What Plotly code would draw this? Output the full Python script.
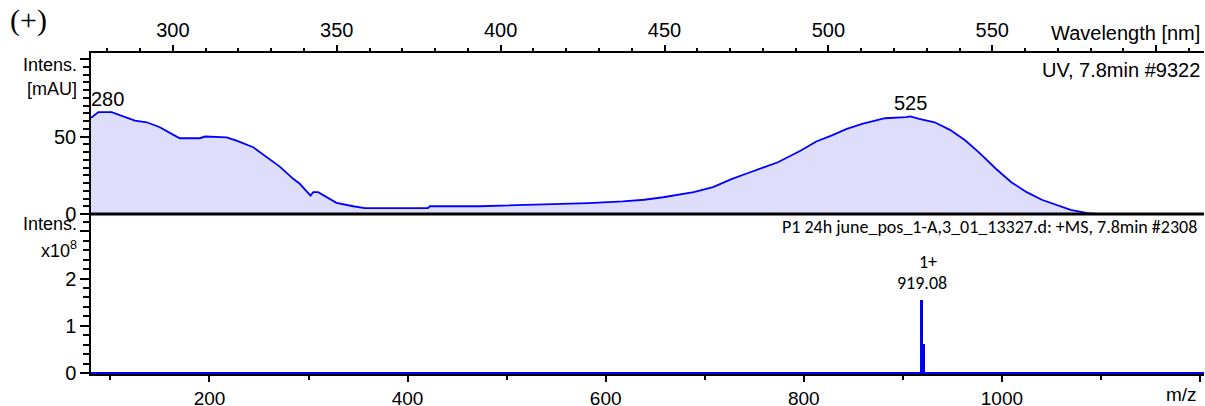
import plotly.graph_objects as go

# ---------------- data ----------------
# UV spectrum (wavelength in nm, absorbance in mAU)
uv_wavelength = [275.0, 277.2, 281.3, 284.8, 288.4, 292.0, 296.0, 299.6, 302.1, 308.2,
                 309.8, 316.4, 319.4, 324.5, 328.6, 332.6, 336.7, 338.7, 342.0, 342.8,
                 344.3, 347.4, 349.9, 355.0, 358.5, 377.8, 378.4, 393.6, 411.7, 426.8,
                 437.3, 443.8, 449.6, 454.3, 458.9, 464.8, 470.6, 475.3, 479.9, 484.6,
                 491.6, 496.3, 500.9, 505.6, 510.3, 514.9, 517.3, 523.7, 525.0, 527.7,
                 532.4, 537.1, 541.8, 546.4, 551.1, 555.8, 560.5, 565.1, 569.8, 573.9,
                 579.0, 582.0, 614.6]
uv_absorbance = [62.1, 65.7, 65.7, 62.9, 60.3, 59.2, 56.0, 51.7, 48.9, 48.9,
                 50.0, 49.5, 47.4, 43.1, 36.6, 30.6, 22.7, 19.5, 11.9, 14.1,
                 14.1, 10.5, 7.2, 5.0, 3.8, 3.8, 5.0, 5.0, 5.9, 7.0,
                 8.1, 9.2, 10.8, 12.4, 14.1, 17.3, 22.7, 26.3, 29.6, 33.4,
                 41.0, 46.8, 50.6, 54.9, 58.2, 60.8, 61.8, 62.5, 63.0, 61.4,
                 59.2, 54.3, 47.4, 38.8, 29.2, 20.5, 14.1, 9.2, 5.5, 2.7,
                 0.6, 0.0, 0.0]
uv_peaks = [280, 525]
uv_peak_abs = [65.7, 63.0]

# MS spectrum (m/z, intensity)
ms_range = [80.4, 1204.0]
ms_mz = [481.2, 755.6, 771.9, 919.08, 921.5]
ms_intensity = [2.0e6, 2.0e6, 2.0e6, 1.55e8, 6.2e7]
ms_widths = [1.5, 1.5, 1.5, 3.0, 2.0]
label_mz = 919.08
label_charge = "1+"

uv_ticks = [300, 350, 400, 450, 500, 550, 600]
uv_ticktext = ["300", "350", "400", "450", "500", "550", ""]
ms_ticks = [200, 400, 600, 800, 1000, 1200]
ms_ticktext = ["200", "400", "600", "800", "1000", ""]

# ---------------- layout helpers ----------------
L, R, T, B = 91, 1, 53, 32
W, H = 1205, 406
PW, PH = W - L - R, H - T - B
split = (374 - 214) / PH


def PX(px):
    return (px - L) / PW


def PY(py):
    return (H - B - py) / PH


BLUE = "#0000FF"
ARIAL = "Liberation Sans, Arial, sans-serif"
CAL = "Carlito, Open Sans, Noto Sans, sans-serif"

fig = go.Figure()

fig.add_trace(go.Scatter(
    x=uv_wavelength, y=uv_absorbance, xaxis="x2", yaxis="y2",
    mode="lines", line=dict(color=BLUE, width=1.8),
    fill="tozeroy", fillcolor="rgb(222,222,252)", hoverinfo="skip"))

fig.add_trace(go.Scatter(
    x=ms_range, y=[0, 0], xaxis="x", yaxis="y", mode="lines",
    line=dict(color=BLUE, width=2), hoverinfo="skip"))

fig.add_trace(go.Bar(
    x=ms_mz, y=ms_intensity, width=ms_widths, xaxis="x", yaxis="y",
    marker=dict(color=BLUE, line=dict(width=0)), hoverinfo="skip"))

axis_common = dict(showgrid=False, zeroline=False, showline=True, linecolor="black",
                   linewidth=1.5, ticks="outside", tickcolor="black", tickwidth=1.5,
                   automargin=False)

fig.update_layout(
    width=W, height=H, margin=dict(l=L, r=R, t=T, b=B, autoexpand=False),
    paper_bgcolor="white", plot_bgcolor="white", showlegend=False,
    barmode="overlay", bargap=0,
    xaxis=dict(**axis_common, domain=[0, 1], anchor="y", range=ms_range,
               tickvals=ms_ticks, ticktext=ms_ticktext, ticklen=6,
               tickfont=dict(family=ARIAL, size=19, color="black"),
               minor=dict(dtick=100, tick0=0, ticklen=4, ticks="outside",
                          tickcolor="black", tickwidth=1.5)),
    yaxis=dict(**axis_common, domain=[0, split], anchor="x",
               range=[-0.021e8, 3.369e8],
               tickvals=[0, 1e8, 2e8, 3e8], ticktext=["0", "1", "2", ""], ticklen=9,
               tickfont=dict(family=ARIAL, size=20, color="black"),
               minor=dict(dtick=0.2e8, tick0=0, ticklen=6, ticks="outside",
                          tickcolor="black", tickwidth=1.5)),
    xaxis2=dict(**axis_common, domain=[0, 1], anchor="y2", side="top",
                range=[275.0, 614.6], tickvals=uv_ticks, ticktext=uv_ticktext,
                ticklen=6,
                tickfont=dict(family=ARIAL, size=20, color="black"),
                minor=dict(dtick=10, tick0=0, ticklen=3, ticks="outside",
                           tickcolor="black", tickwidth=1.5)),
    yaxis2=dict(**axis_common, domain=[split, 1], anchor="x2", range=[0, 103.9],
                tickvals=[0, 50, 100], ticktext=["0", "50", ""], ticklen=9,
                tickfont=dict(family=ARIAL, size=20, color="black"),
                minor=dict(dtick=5, tick0=0, ticklen=6, ticks="outside",
                           tickcolor="black", tickwidth=1.5)),
)

fig.add_shape(type="line", xref="paper", yref="paper", x0=0, x1=1, y0=split, y1=split,
              line=dict(color="black", width=3))


def txt(text, x, y, size=20, family=ARIAL, xanchor="right", **kw):
    fig.add_annotation(text=text, x=x, y=y, xref=kw.pop("xref", "paper"),
                       yref=kw.pop("yref", "paper"), showarrow=False,
                       xanchor=xanchor, yanchor=kw.pop("yanchor", "middle"),
                       font=dict(family=family, size=size, color="black"), **kw)


txt("(+)", PX(28), PY(20), size=30, family="Liberation Serif, Times New Roman, serif",
    xanchor="center")
txt("Wavelength [nm]", PX(1202), PY(33))
txt("Intens.", PX(79), PY(65), size=18)
txt("[mAU]", PX(79), PY(89), size=18)
txt("UV, 7.8min #9322", PX(1202), PY(70))
txt("Intens.", PX(79), PY(224), size=18)
txt("x10<sup>8</sup>", PX(79), PY(249), size=18)
txt("P1 24h june_pos_1-A,3_01_13327.d: +MS, 7.8min #2308", PX(1199), PY(227),
    size=18, family=CAL)
txt("m/z", PX(1199), PY(395), size=19)

for wl, ab in zip(uv_peaks, uv_peak_abs):
    txt(str(wl), wl, ab, xref="x2", yref="y2", xanchor="center", yanchor="bottom")

idx = ms_mz.index(label_mz)
txt(f"{label_mz:.2f}", label_mz, ms_intensity[idx], size=18, family=CAL,
    xref="x", yref="y", xanchor="center", yanchor="bottom", yshift=4)
txt(label_charge, label_mz, ms_intensity[idx], size=18, family=CAL,
    xref="x", yref="y", xanchor="center", yanchor="bottom", yshift=25, xshift=6)

fig.write_html("out.html", config={"displayModeBar": False},
               post_script="document.body.style.margin='0';")
